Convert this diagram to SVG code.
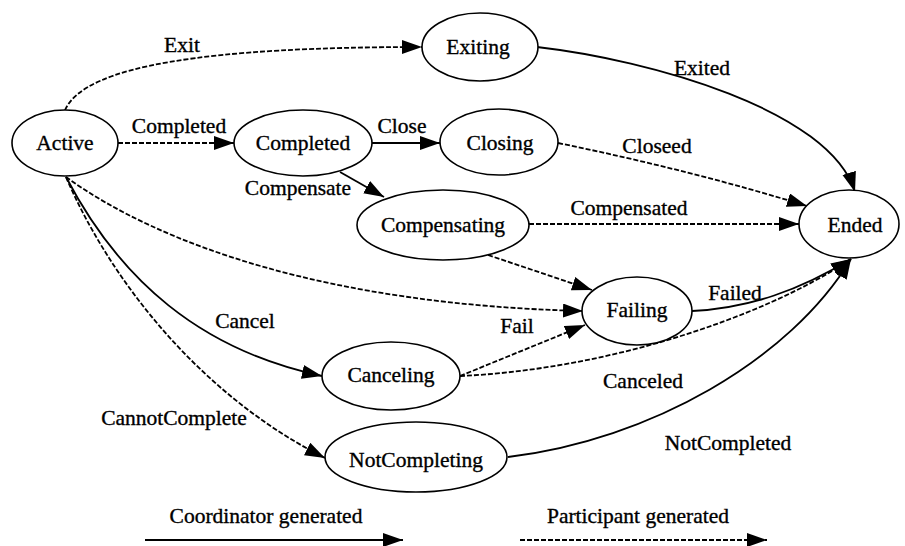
<svg xmlns="http://www.w3.org/2000/svg" width="905" height="546" viewBox="0 0 905 546" font-family="'Liberation Serif', 'DejaVu Serif', serif">
  <style>
    .node ellipse { fill: #fff; stroke: #000; stroke-width: 1.6; }
    text { font-family: 'Liberation Serif', 'DejaVu Serif', serif; font-size: 21.5px; fill: #000; stroke: #000; stroke-width: 0.35; text-anchor: middle; }
    .edge { fill: none; stroke: #000; stroke-width: 1.8; marker-end: url(#arrow); }
    .dash { stroke-dasharray: 5 2; }
  </style>
  <defs>
    <marker id="arrow" markerUnits="userSpaceOnUse" markerWidth="22" markerHeight="15" refX="20" refY="7" orient="auto">
      <path d="M0,0 L20,7 L0,14 z" fill="#000"/>
    </marker>
  </defs>
  <rect width="905" height="546" fill="#fff"/>

  <!-- transitions -->
  <g id="connectors">
    <path class="edge dash" d="M65,110 C 85,65 210,47 422,47"/>
    <path class="edge dash" d="M118,143 L234,143"/>
    <path class="edge" d="M372,143 L440,143"/>
    <path class="edge" d="M340,172 L384,197"/>
    <path class="edge" d="M537,47 C 650,60 830,110 855,192"/>
    <path class="edge dash" d="M558,143 Q 690,170 807,206"/>
    <path class="edge dash" d="M529,224 L799,224"/>
    <path class="edge dash" d="M488,255 L592,290"/>
    <path class="edge dash" d="M66,177 C 160,245 330,305 583,311"/>
    <path class="edge" d="M66,177 C 120,280 200,350 322,376"/>
    <path class="edge dash" d="M66,177 C 110,280 200,395 325,458"/>
    <path class="edge dash" d="M460,376 L585,325"/>
    <path class="edge dash" d="M460,376 C 600,370 760,320 851,259"/>
    <path class="edge" d="M692,311 C 750,308 800,290 851,259"/>
    <path class="edge" d="M508,457 C 650,440 790,360 851,259"/>
    <!-- legend arrows -->
    <path class="edge" d="M145,540 L403,540"/>
    <path class="edge dash" d="M520,540 L767,540"/>
  </g>

  <!-- transition labels -->
  <g id="labels">
    <text x="182" y="52">Exit</text>
    <text x="179" y="133">Completed</text>
    <text x="402" y="133">Close</text>
    <text x="298" y="195">Compensate</text>
    <text x="702" y="75">Exited</text>
    <text x="657" y="153">Closeed</text>
    <text x="629" y="215">Compensated</text>
    <text x="735" y="300">Failed</text>
    <text x="517" y="333">Fail</text>
    <text x="245" y="328">Cancel</text>
    <text x="643" y="388">Canceled</text>
    <text x="174" y="425">CannotComplete</text>
    <text x="728" y="450">NotCompleted</text>
    <text x="266" y="523">Coordinator generated</text>
    <text x="638" y="523">Participant generated</text>
  </g>

  <!-- states -->
  <g id="active" class="node"><ellipse cx="65" cy="143" rx="53" ry="33"/><text x="65" y="150">Active</text></g>
  <g id="completed" class="node"><ellipse cx="303" cy="143" rx="69" ry="33"/><text x="303" y="150">Completed</text></g>
  <g id="exiting" class="node"><ellipse cx="480" cy="47" rx="58" ry="34"/><text x="478" y="54">Exiting</text></g>
  <g id="closing" class="node"><ellipse cx="499" cy="142" rx="59" ry="33"/><text x="500" y="150">Closing</text></g>
  <g id="compensating" class="node"><ellipse cx="443" cy="225" rx="86" ry="35"/><text x="443" y="232">Compensating</text></g>
  <g id="ended" class="node"><ellipse cx="849" cy="224" rx="50" ry="34"/><text x="855" y="232">Ended</text></g>
  <g id="failing" class="node"><ellipse cx="637" cy="311" rx="55" ry="34"/><text x="637" y="317">Failing</text></g>
  <g id="canceling" class="node"><ellipse cx="391" cy="376" rx="69" ry="34"/><text x="391" y="382">Canceling</text></g>
  <g id="notcompleting" class="node"><ellipse cx="416" cy="457" rx="91" ry="35"/><text x="416" y="467">NotCompleting</text></g>
</svg>
